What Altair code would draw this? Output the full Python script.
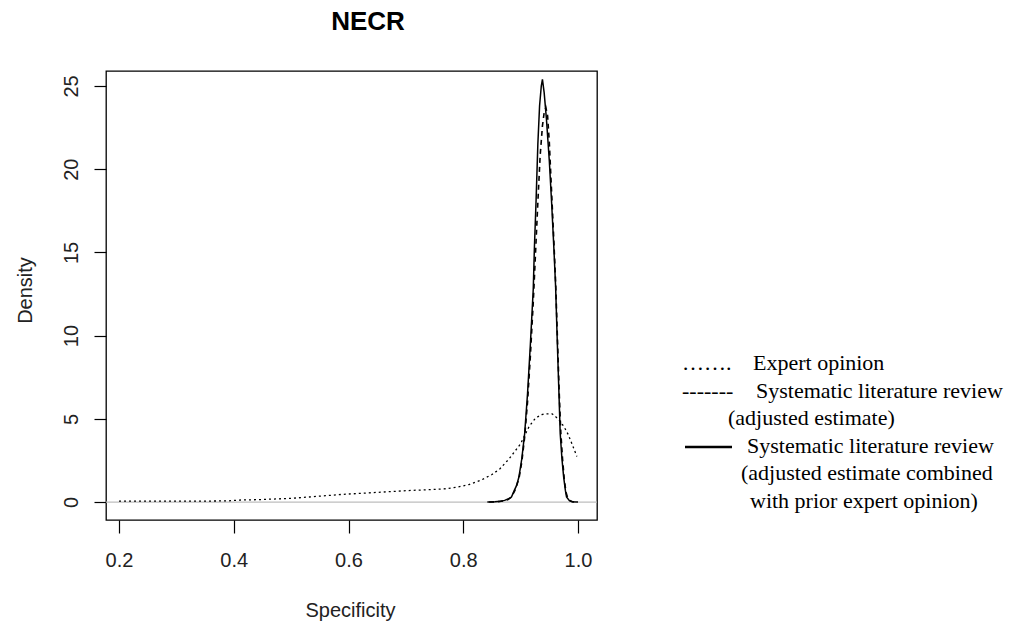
import altair as alt
import pandas as pd

# ---- data ----
x_expert = [0.20, 0.24, 0.28, 0.32, 0.36, 0.39, 0.41, 0.44, 0.47, 0.50, 0.53, 0.56,
            0.59, 0.62, 0.65, 0.68, 0.71, 0.74, 0.77, 0.79, 0.81, 0.83, 0.85, 0.864,
            0.88, 0.89, 0.90, 0.907, 0.915, 0.925, 0.935, 0.945, 0.955, 0.962, 0.969,
            0.976, 0.983, 0.99, 0.998]
y_expert = [0.05, 0.05, 0.05, 0.05, 0.06, 0.07, 0.12, 0.14, 0.18, 0.22, 0.30, 0.38,
            0.46, 0.52, 0.58, 0.64, 0.70, 0.74, 0.80, 0.90, 1.05, 1.30, 1.65, 2.0,
            2.6, 3.05, 3.5, 4.0, 4.55, 5.0, 5.25, 5.3, 5.3, 5.1, 4.85,
            4.5, 4.05, 3.45, 2.74]

x_adjusted = [0.845, 0.86, 0.87, 0.878, 0.884, 0.890, 0.897, 0.902, 0.907, 0.912, 0.917,
              0.922, 0.926, 0.930, 0.934, 0.938, 0.941, 0.944, 0.947, 0.950, 0.954, 0.958,
              0.961, 0.964, 0.967, 0.970, 0.973, 0.976, 0.979, 0.982, 0.986, 0.990, 0.995]
y_adjusted = [0.0, 0.02, 0.06, 0.15, 0.30, 0.70, 1.40, 2.40, 3.90, 6.00, 8.80,
              12.0, 15.0, 18.0, 20.8, 22.6, 23.4, 23.7, 23.2, 21.6, 18.6, 15.6,
              13.2, 10.0, 6.8, 4.2, 2.6, 1.4, 0.6, 0.25, 0.08, 0.02, 0.0]

x_combined = [0.842, 0.855, 0.865, 0.872, 0.878, 0.884, 0.889, 0.893, 0.897, 0.902, 0.907,
              0.912, 0.917, 0.922, 0.924, 0.927, 0.930, 0.933, 0.936, 0.938, 0.941, 0.945,
              0.950, 0.954, 0.958, 0.961, 0.964, 0.967, 0.969, 0.972, 0.975, 0.978, 0.980,
              0.985, 0.990, 1.000]
y_combined = [0.0, 0.02, 0.05, 0.10, 0.18, 0.30, 0.70, 1.00, 1.50, 2.60, 4.10,
              6.50, 9.50, 12.8, 15.3, 18.2, 21.5, 23.8, 25.0, 25.4, 24.6, 23.0,
              20.5, 18.0, 15.2, 12.9, 9.5, 6.3, 4.1, 2.6, 1.5, 0.7, 0.3,
              0.08, 0.02, 0.0]

x_ticks = [0.2, 0.4, 0.6, 0.8, 1.0]
y_ticks = [0, 5, 10, 15, 20, 25]

title_text = "NECR"
x_title = "Specificity"
y_title = "Density"

df_exp = pd.DataFrame({"x": x_expert, "y": y_expert})
df_adj = pd.DataFrame({"x": x_adjusted, "y": y_adjusted})
df_comb = pd.DataFrame({"x": x_combined, "y": y_combined})

W, H = 491, 449
SANS = "Liberation Sans"
SERIF = "Liberation Serif"

xscale = alt.Scale(domain=[0.1773, 1.0331], nice=False, zero=False)
yscale = alt.Scale(domain=[-1.08, 25.9], nice=False, zero=False)

xaxis = alt.Axis(values=x_ticks, format=".1f", grid=False, domain=False,
                 tickSize=13, tickColor="black", tickWidth=1.2,
                 labelFont=SANS, labelFontSize=20, labelColor="#222", labelPadding=17,
                 labelFlush=False,
                 title=x_title, titleFont=SANS, titleFontSize=20, titleFontWeight="normal",
                 titleColor="#222", titleX=244, titleY=90, titleAlign="center",
                 titleBaseline="middle", titleAnchor="middle")
yaxis = alt.Axis(values=y_ticks, grid=False, domain=False,
                 tickSize=12, tickColor="black", tickWidth=1.2,
                 labelFont=SANS, labelFontSize=20, labelColor="#222", labelPadding=23,
                 labelAngle=270, labelAlign="center", labelBaseline="middle",
                 labelFlush=False,
                 title=y_title, titleFont=SANS, titleFontSize=20, titleFontWeight="normal",
                 titleColor="#222", titleX=-81, titleY=219, titleAngle=270,
                 titleAlign="center", titleBaseline="middle")

zero_line = alt.Chart(pd.DataFrame({"y": [0]})).mark_rule(
    color="#bebebe", strokeWidth=1.2).encode(
    y=alt.Y("y:Q", scale=yscale, axis=yaxis))

def curve(df, dash, width):
    props = dict(color="black", strokeWidth=width, interpolate="linear")
    if dash:
        props["strokeDash"] = dash
    return alt.Chart(df).mark_line(**props).encode(
        x=alt.X("x:Q", scale=xscale, axis=xaxis),
        y=alt.Y("y:Q", scale=yscale, axis=yaxis),
    )

line_exp = curve(df_exp, [2, 3], 1.3)
line_adj = curve(df_adj, [5, 4], 1.6)
line_comb = curve(df_comb, None, 1.5)

def label(text, px, py, font=SERIF, size=22, weight="normal", align="left"):
    return alt.Chart(pd.DataFrame({"t": [text]})).mark_text(
        font=font, fontSize=size, fontWeight=weight, align=align,
        baseline="middle", color="black").encode(
        text="t:N", x=alt.value(px), y=alt.value(py))

ox, oy = 106, 71
solid_key = alt.Chart(pd.DataFrame({"k": [0]})).mark_rule(
    color="black", strokeWidth=2.4).encode(
    x=alt.value(685 - ox), x2=alt.value(732 - ox), y=alt.value(447 - oy))

legend_layers = [
    label("…….", 682 - ox, 363 - oy),
    label("Expert opinion", 753 - ox, 363 - oy),
    label("-------", 682 - ox, 391 - oy),
    label("Systematic literature review", 756 - ox, 391 - oy),
    label("(adjusted estimate)", 728 - ox, 418 - oy),
    solid_key,
    label("Systematic literature review", 747 - ox, 446 - oy),
    label("(adjusted estimate combined", 741 - ox, 473 - oy),
    label("with prior expert opinion)", 750 - ox, 501 - oy),
]
title_layer = label(title_text, 368 - ox, 22 - oy, font=SANS, size=26,
                    weight="bold", align="center")

chart = alt.layer(zero_line, line_exp, line_adj, line_comb, title_layer,
                  *legend_layers).properties(
    width=W, height=H,
    autosize=alt.AutoSizeParams(type="none"),
    padding={"left": ox, "top": oy, "right": 1026 - ox - W, "bottom": 626 - oy - H},
    background="white",
).configure_view(stroke="black", strokeWidth=1.3)

chart.save("out.html", embed_options={"renderer": "svg", "actions": False})
